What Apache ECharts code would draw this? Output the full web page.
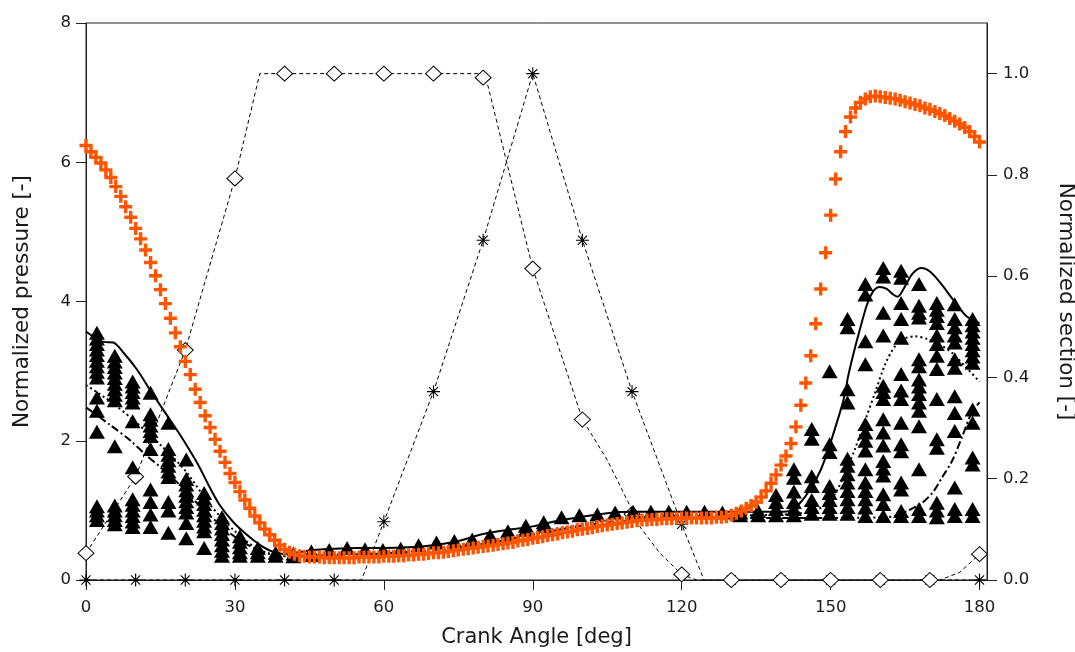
<!DOCTYPE html>
<html>
<head>
<meta charset="utf-8">
<script src="https://cdn.jsdelivr.net/npm/echarts@6/dist/echarts.min.js"></script>
<style>
html,body{margin:0;padding:0;background:#fff;}
#chart{width:1075px;height:652px;}
</style>
</head>
<body>
<div id="chart"></div>
<script>
// ---- Data ----
const xTicks = [0, 30, 60, 90, 120, 150, 180];
const yLeftTicks = [0, 2, 4, 6, 8];
const yRightTicks = [0, 0.2, 0.4, 0.6, 0.8, 1.0];

// Orange "+" : normalized pressure, one point per degree (0..180)
const pressurePlus = [
 6.24,6.15,6.07,5.99,5.89,5.78,5.65,5.51,5.36,5.21,
 5.05,4.90,4.74,4.56,4.37,4.17,3.97,3.76,3.55,3.35,
 3.14,2.95,2.74,2.55,2.36,2.19,2.02,1.85,1.69,1.53,
 1.40,1.27,1.15,1.03,0.92,0.82,0.73,0.65,0.57,0.50,
 0.44,0.40,0.37,0.35,0.34,0.33,0.33,0.33,0.32,0.32,
 0.32,0.32,0.32,0.32,0.32,0.33,0.33,0.33,0.33,0.33,
 0.34,0.34,0.34,0.35,0.35,0.36,0.36,0.37,0.37,0.38,
 0.39,0.39,0.40,0.41,0.42,0.43,0.44,0.45,0.46,0.47,
 0.48,0.49,0.50,0.51,0.52,0.53,0.54,0.56,0.57,0.58,
 0.60,0.61,0.62,0.64,0.65,0.66,0.68,0.69,0.70,0.72,
 0.73,0.74,0.75,0.77,0.78,0.79,0.80,0.81,0.82,0.83,
 0.84,0.85,0.86,0.86,0.87,0.87,0.88,0.88,0.88,0.89,
 0.89,0.89,0.89,0.89,0.89,0.89,0.89,0.90,0.90,0.91,
 0.93,0.96,0.99,1.03,1.07,1.12,1.19,1.28,1.39,1.51,
 1.65,1.78,1.96,2.20,2.51,2.83,3.22,3.68,4.18,4.70,
 5.24,5.76,6.15,6.44,6.65,6.78,6.86,6.91,6.94,6.95,
 6.94,6.93,6.92,6.91,6.89,6.87,6.85,6.83,6.81,6.78,
 6.76,6.73,6.70,6.67,6.63,6.59,6.55,6.50,6.44,6.37,
 6.29
];

// Black triangles : scattered cycles, grouped by crank-angle column
const triAngle = [2.2,5.8,9.4,13.0,16.6,20.2,23.8,27.4,31.0,34.6,38.2,41.8,45.4,49.0,52.6,56.2,59.8,63.4,67.0,70.6,
 74.2,77.8,81.4,85.0,88.6,92.2,95.8,99.4,103.0,106.6,110.2,113.8,117.4,121.0,124.6,128.2,131.8,135.4,139.0,142.6,
 146.2,149.8,153.4,157.0,160.6,164.2,167.8,171.4,175.0,178.6];
const triValues = [
 [3.55,3.47,3.39,3.31,3.23,3.15,3.07,2.99,2.91,2.62,2.43,2.13,1.06,1.0,0.93,0.86],
 [3.22,3.14,3.06,2.98,2.90,2.82,2.74,2.66,2.58,1.92,1.07,1.0,0.93,0.86,0.80],
 [2.85,2.78,2.70,2.62,2.55,2.28,1.62,1.16,1.08,1.0,0.92,0.84,0.76],
 [2.69,2.38,2.30,2.22,2.14,2.07,1.88,1.30,1.12,0.94,0.76],
 [2.26,1.88,1.80,1.72,1.64,1.56,1.48,1.12,1.0,0.68],
 [1.73,1.45,1.37,1.29,1.21,1.13,1.05,0.97,0.82,0.60],
 [1.25,1.17,1.09,1.01,0.93,0.85,0.77,0.70,0.46],
 [0.90,0.82,0.74,0.66,0.58,0.50,0.42,0.35],
 [0.63,0.55,0.47,0.40,0.35],
 [0.46,0.40,0.35],
 [0.39,0.35],
 [0.38,0.34],
 [0.41,0.36],
 [0.43],
 [0.46],
 [0.44],
 [0.43],
 [0.45],
 [0.50],
 [0.54],
 [0.56],
 [0.58],
 [0.64,0.60],
 [0.70,0.65],
 [0.78,0.72],
 [0.83,0.78],
 [0.90],
 [0.93],
 [0.94],
 [0.97],
 [0.98],
 [0.98],
 [0.98],
 [0.98],
 [0.98],
 [0.97],
 [0.97,0.93],
 [0.99,0.93],
 [1.22,1.12,1.02,0.93],
 [1.59,1.47,1.27,1.12,1.02,0.93],
 [2.17,2.03,1.49,1.35,1.15,1.05,0.95],
 [3.00,1.95,1.84,1.35,1.25,1.15,1.05,0.95],
 [3.75,3.63,2.74,2.55,1.74,1.64,1.52,1.40,1.28,1.16,1.05,0.95],
 [4.25,4.10,3.43,3.10,2.24,2.12,2.0,1.86,1.59,1.40,1.28,1.16,1.04,0.92],
 [4.48,4.36,3.84,3.51,2.79,2.70,2.60,2.31,2.12,1.93,1.71,1.60,1.50,1.23,1.09,0.92],
 [4.44,4.34,3.98,3.75,3.48,2.96,2.72,2.60,2.26,1.95,1.85,1.40,1.30,0.99,0.92],
 [4.25,3.94,3.84,3.77,3.17,3.07,2.88,2.78,2.67,2.55,2.43,2.21,1.59,1.02,0.92],
 [3.98,3.88,3.79,3.69,3.51,3.39,3.22,3.03,2.60,2.02,1.90,1.11,1.0,0.90],
 [3.96,3.75,3.63,3.51,3.41,3.17,3.05,2.64,2.40,2.14,1.33,1.02,0.92],
 [3.75,3.66,3.57,3.48,3.39,3.30,3.21,3.12,2.45,2.26,1.76,1.66,1.02,0.92]
];

// Solid black line
const solidAngle = [0,2,3.5,5.5,7.6,10.3,12.9,15.6,19,22.4,25,27,29.7,32.4,35.1,37.1,39.1,41,43,46,50,55,60,65,70,75,80,85,90,95,100,105,110,120,130,140,142,144,146.2,148,149.5,151.2,152.6,153.6,154.6,155.9,157.3,158.6,159.9,161.3,162.6,163.5,165,166.5,168.3,170,172.2,174.5,176,177.5,180];
const solidValue = [3.57,3.47,3.42,3.41,3.26,3.02,2.73,2.44,2.08,1.68,1.32,1.07,0.83,0.65,0.50,0.42,0.38,0.37,0.40,0.43,0.45,0.46,0.46,0.47,0.50,0.56,0.66,0.72,0.77,0.85,0.91,0.96,0.98,0.98,0.98,0.98,1.0,1.12,1.34,1.58,1.87,2.25,2.59,2.95,3.25,3.60,3.95,4.15,4.21,4.18,4.10,4.07,4.22,4.40,4.48,4.43,4.26,4.04,3.90,3.78,3.69];

// Dotted black line
const dottedAngle = [0,5,10,15,20,25,30,35,40,50,60,70,80,90,100,110,120,130,140,146,149,151,153,155,157,159,161,163,165,167,169.5,172,174.5,177.2,180];
const dottedValue = [2.80,2.56,2.27,1.94,1.57,1.08,0.70,0.43,0.35,0.37,0.40,0.45,0.55,0.68,0.80,0.89,0.93,0.93,0.94,0.98,1.08,1.25,1.55,1.90,2.30,2.70,3.10,3.36,3.47,3.50,3.46,3.38,3.26,3.06,2.85];

// Dash-dot black line
const dashDotAngle = [0,5,9,12,15,19,22,25,30,35,40,50,60,70,80,90,100,110,120,130,140,150,160,163,166,168.3,170.7,172.5,174.4,176.4,178.4,180];
const dashDotValue = [2.48,2.22,2.0,1.80,1.62,1.36,1.13,0.92,0.62,0.42,0.34,0.36,0.38,0.43,0.52,0.65,0.78,0.86,0.89,0.89,0.89,0.89,0.90,0.92,1.01,1.10,1.27,1.48,1.70,2.04,2.40,2.55];

// Normalized section (right axis): markers every 10 deg
const sectionAngle = [0,10,20,30,40,50,60,70,80,90,100,110,120,130,140,150,160,170,180];
const diamondSection = [0.053,0.204,0.454,0.793,1.0,1.0,1.0,1.0,0.992,0.615,0.317,0.13,0.011,0,0,0,0,0,0.051];
const asteriskSection = [0,0,0,0,0,0,0.115,0.372,0.671,1.0,0.671,0.372,0.11,0,0,0,0,0,0];
// dashed curves through those markers
const diamondLineAngle = [0,10,20,30,35,80,81,90,100,105,109,111.6,115.6,120,123,172,176,180];
const diamondLineValue = [0.053,0.204,0.454,0.793,1.0,1.0,0.975,0.615,0.317,0.237,0.158,0.105,0.053,0.011,0,0,0.015,0.051];
const asteriskLineAngle = [0,55.5,60,70,80,90,100,110,120,124.5,180];
const asteriskLineValue = [0,0,0.115,0.372,0.671,1.0,0.671,0.372,0.11,0,0];

// ---- Build series data ----
const zip = (a, b) => a.map((v, i) => [v, b[i]]);
const plusData = pressurePlus.map((v, i) => [i, v]);
const triData = [];
triAngle.forEach((a, i) => triValues[i].forEach(v => triData.push([a, v])));

const FONT = 'DejaVu Sans';
const TXT = '#1a1a1a';
const AX = '#222';

const plusPath = 'path://M4.8,0 L8.2,0 L8.2,4.8 L13,4.8 L13,8.2 L8.2,8.2 L8.2,13 L4.8,13 L4.8,8.2 L0,8.2 L0,4.8 L4.8,4.8 Z';
const starPath = 'path://M6,0 L6,12 M0,6 L12,6 M1.8,1.8 L10.2,10.2 M1.8,10.2 L10.2,1.8';

const chart = echarts.init(document.getElementById('chart'), null, {renderer: 'canvas'});
chart.setOption({
  animation: false,
  backgroundColor: '#fff',
  grid: {left: 86, right: 88, top: 23, bottom: 72, outerBoundsMode: 'none', containLabel: false,
    show: true, borderColor: AX, borderWidth: 1, backgroundColor: 'transparent'},
  xAxis: {
    type: 'value', min: 0, max: 181.5,
    axisLine: {show: true, onZero: false, lineStyle: {color: AX, width: 1}},
    axisTick: {show: true, inside: false, length: 10, customValues: xTicks, lineStyle: {color: AX}},
    axisLabel: {customValues: xTicks, margin: 19, fontFamily: FONT, fontSize: 16.5, color: TXT},
    splitLine: {show: false},
    name: 'Crank Angle [deg]', nameLocation: 'middle', nameGap: 47,
    nameTextStyle: {fontFamily: FONT, fontSize: 21, color: TXT}
  },
  yAxis: [{
    type: 'value', min: 0, max: 8, interval: 2, position: 'left',
    axisLine: {show: true, lineStyle: {color: AX, width: 1}},
    axisTick: {show: true, inside: false, length: 10, lineStyle: {color: AX}},
    axisLabel: {margin: 15, fontFamily: FONT, fontSize: 16.5, color: TXT},
    splitLine: {show: false},
    name: 'Normalized pressure [-]', nameLocation: 'middle', nameGap: 53, nameRotate: 90,
    nameTextStyle: {fontFamily: FONT, fontSize: 21.5, color: TXT}
  }, {
    type: 'value', min: 0, max: 1.1, position: 'right',
    axisLine: {show: true, lineStyle: {color: AX, width: 1}},
    axisTick: {show: true, inside: false, length: 10, customValues: yRightTicks, lineStyle: {color: AX}},
    axisLabel: {customValues: yRightTicks, margin: 16, fontFamily: FONT, fontSize: 16.5, color: TXT,
      formatter: v => Number(v).toFixed(1)},
    splitLine: {show: false},
    name: 'Normalized section [-]', nameLocation: 'middle', nameGap: 68, nameRotate: -90,
    nameTextStyle: {fontFamily: FONT, fontSize: 21.5, color: TXT}
  }],
  series: [
    {type: 'line', yAxisIndex: 1, data: zip(diamondLineAngle, diamondLineValue), symbol: 'none', z: 1,
      lineStyle: {color: '#000', width: 1, type: [4, 3]}},
    {type: 'line', yAxisIndex: 1, data: zip(asteriskLineAngle, asteriskLineValue), symbol: 'none', z: 1,
      lineStyle: {color: '#000', width: 1, type: [4, 3]}},
    {type: 'scatter', yAxisIndex: 1, data: zip(sectionAngle, asteriskSection), symbol: starPath, symbolSize: 13, z: 2,
      itemStyle: {color: 'rgba(0,0,0,0)', borderColor: '#000', borderWidth: 1.1, opacity: 1}},
    {type: 'scatter', yAxisIndex: 1, data: zip(sectionAngle, diamondSection), symbol: 'diamond', symbolSize: [16, 15], z: 2,
      itemStyle: {color: '#fff', borderColor: '#000', borderWidth: 1, opacity: 1}},
    {type: 'scatter', yAxisIndex: 0, data: triData, symbol: 'triangle', symbolSize: [16, 14], z: 3,
      itemStyle: {color: '#000', opacity: 1}},
    {type: 'line', yAxisIndex: 0, data: zip(solidAngle, solidValue), symbol: 'none', smooth: 0.3, z: 4,
      lineStyle: {color: '#000', width: 2, type: 'solid'}},
    {type: 'line', yAxisIndex: 0, data: zip(dottedAngle, dottedValue), symbol: 'none', smooth: 0.3, z: 4,
      lineStyle: {color: '#000', width: 2, type: [2, 3]}},
    {type: 'line', yAxisIndex: 0, data: zip(dashDotAngle, dashDotValue), symbol: 'none', smooth: 0.3, z: 4,
      lineStyle: {color: '#000', width: 2, type: [8, 3, 2, 3]}},
    {type: 'scatter', yAxisIndex: 0, data: plusData, symbol: plusPath, symbolSize: 13, z: 5,
      itemStyle: {color: '#ff5500', opacity: 1}}
  ]
});
</script>
</body>
</html>
